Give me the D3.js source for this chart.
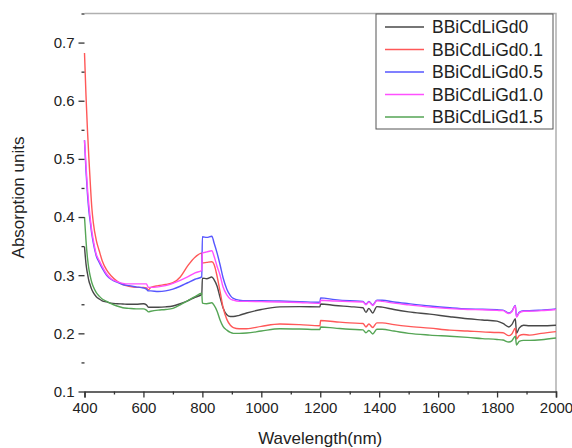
<!DOCTYPE html>
<html>
<head>
<meta charset="utf-8">
<script src="https://cdn.jsdelivr.net/npm/d3@7"></script>
<style>
  body { margin: 0; background: #fff; }
  #chart text { font-family: "Liberation Sans", Arial, sans-serif; fill: #222; }
</style>
</head>
<body>
<div id="chart"></div>
<script>
const wavelengths = [400, 405, 410, 415, 420, 425, 430, 440, 450, 460, 475, 490, 510, 530, 550, 575,
  600, 610, 617, 625, 650, 675, 700, 725, 750, 775, 798, 800, 815, 832, 840, 850, 860, 870, 883, 895,
  905, 925, 950, 1000, 1063, 1130, 1199, 1201, 1250, 1300, 1345, 1355, 1365, 1378, 1392, 1410, 1450,
  1500, 1572, 1640, 1700, 1750, 1800, 1820, 1840, 1850, 1862, 1866, 1875, 1890, 1910, 1950, 2000];

const gd0 = [0.349, 0.32, 0.303, 0.29, 0.282, 0.275, 0.270, 0.263, 0.259, 0.256, 0.254, 0.252, 0.251, 0.2505, 0.250, 0.250,
  0.251, 0.249, 0.245, 0.245, 0.245, 0.2455, 0.247, 0.251, 0.256, 0.262, 0.267, 0.295, 0.294, 0.297, 0.292, 0.281, 0.262, 0.244, 0.232, 0.229,
  0.229, 0.231, 0.235, 0.241, 0.2455, 0.246, 0.2455, 0.2505, 0.248, 0.246, 0.244, 0.236, 0.243, 0.235, 0.246, 0.245, 0.241,
  0.237, 0.233, 0.2285, 0.225, 0.223, 0.221, 0.217, 0.211, 0.215, 0.225, 0.200, 0.209, 0.214, 0.213, 0.213, 0.214];

const gd01 = [0.682, 0.61, 0.55, 0.50, 0.455, 0.415, 0.39, 0.36, 0.342, 0.325, 0.309, 0.299, 0.29, 0.284, 0.281, 0.279,
  0.279, 0.278, 0.275, 0.279, 0.282, 0.284, 0.287, 0.297, 0.316, 0.331, 0.338, 0.321, 0.322, 0.323, 0.318, 0.298, 0.272, 0.245, 0.224, 0.214,
  0.210, 0.208, 0.208, 0.212, 0.216, 0.215, 0.213, 0.222, 0.220, 0.218, 0.217, 0.211, 0.216, 0.210, 0.218, 0.218, 0.215,
  0.212, 0.209, 0.2055, 0.204, 0.2025, 0.2015, 0.201, 0.196, 0.199, 0.209, 0.190, 0.196, 0.198, 0.197, 0.200, 0.203];

const gd05 = [0.532, 0.48, 0.44, 0.41, 0.39, 0.37, 0.355, 0.333, 0.322, 0.312, 0.300, 0.293, 0.288, 0.284, 0.282, 0.280,
  0.278, 0.276, 0.273, 0.273, 0.272, 0.273, 0.276, 0.281, 0.287, 0.293, 0.297, 0.366, 0.365, 0.367, 0.355, 0.338, 0.318, 0.296, 0.276, 0.265,
  0.260, 0.257, 0.256, 0.256, 0.2555, 0.2545, 0.2535, 0.261, 0.258, 0.256, 0.255, 0.250, 0.255, 0.249, 0.257, 0.257, 0.254,
  0.251, 0.247, 0.244, 0.242, 0.2415, 0.2405, 0.240, 0.235, 0.238, 0.248, 0.229, 0.236, 0.239, 0.239, 0.240, 0.242];

const gd10 = [0.532, 0.49, 0.45, 0.42, 0.395, 0.375, 0.36, 0.336, 0.325, 0.315, 0.302, 0.294, 0.289, 0.286, 0.285, 0.285,
  0.285, 0.285, 0.279, 0.279, 0.280, 0.282, 0.286, 0.291, 0.297, 0.304, 0.308, 0.338, 0.340, 0.342, 0.332, 0.315, 0.300, 0.280, 0.266, 0.259,
  0.257, 0.255, 0.255, 0.2545, 0.254, 0.253, 0.2515, 0.257, 0.2555, 0.2545, 0.254, 0.249, 0.254, 0.248, 0.256, 0.255, 0.252,
  0.249, 0.245, 0.2425, 0.241, 0.2405, 0.2395, 0.239, 0.234, 0.237, 0.247, 0.228, 0.235, 0.238, 0.238, 0.239, 0.241];

const gd15 = [0.40, 0.36, 0.33, 0.31, 0.297, 0.287, 0.28, 0.27, 0.264, 0.259, 0.255, 0.251, 0.247, 0.244, 0.243, 0.242,
  0.242, 0.240, 0.237, 0.238, 0.240, 0.241, 0.243, 0.249, 0.256, 0.263, 0.269, 0.252, 0.251, 0.2525, 0.248, 0.238, 0.223, 0.212, 0.2055, 0.2015,
  0.200, 0.200, 0.2005, 0.204, 0.208, 0.2075, 0.2065, 0.211, 0.209, 0.207, 0.206, 0.201, 0.205, 0.199, 0.207, 0.207, 0.204,
  0.200, 0.197, 0.195, 0.193, 0.191, 0.1895, 0.1885, 0.185, 0.187, 0.195, 0.180, 0.186, 0.188, 0.188, 0.189, 0.192];

const seriesNames = ["BBiCdLiGd0", "BBiCdLiGd0.1", "BBiCdLiGd0.5", "BBiCdLiGd1.0", "BBiCdLiGd1.5"];
const seriesValues = [gd0, gd01, gd05, gd10, gd15];
const seriesColors = ["#484848", "#ff5858", "#5656ff", "#ff50ff", "#55a555"];

const xTicks = [400, 600, 800, 1000, 1200, 1400, 1600, 1800, 2000];
const xMinorTicks = [500, 700, 900, 1100, 1300, 1500, 1700, 1900];
const yTicks = [0.1, 0.2, 0.3, 0.4, 0.5, 0.6, 0.7];
const yMinorTicks = [0.15, 0.25, 0.35, 0.45, 0.55, 0.65, 0.75];

const width = 572;
const height = 448;
const margin = { top: 13.5, right: 16, bottom: 56.5, left: 84.5 };

const svg = d3.select("#chart")
  .append("svg")
  .attr("width", width)
  .attr("height", height)
  .style("display", "block");

const x = d3.scaleLinear()
  .domain([400, 2000])
  .range([margin.left, width - margin.right]);

const y = d3.scaleLinear()
  .domain([0.1, 0.75])
  .range([height - margin.bottom, margin.top]);

// light frame on top and right
svg.append("path")
  .attr("d", `M${x(400)},${y(0.75)}H${x(2000)}V${y(0.1)}`)
  .attr("fill", "none")
  .attr("stroke", "#b0b0b0")
  .attr("stroke-width", 1.5);

// lines
const line = d3.line()
  .x((d, i) => x(wavelengths[i]))
  .y(d => y(d))
  .curve(d3.curveMonotoneX);

const plot = svg.append("g");
seriesValues.forEach((vals, k) => {
  plot.append("path")
    .datum(vals)
    .attr("d", line)
    .attr("fill", "none")
    .attr("stroke", seriesColors[k])
    .attr("stroke-width", 1.4)
    .attr("stroke-linejoin", "round");
});

// axes
const gx = svg.append("g")
  .attr("transform", `translate(0,${y(0.1)})`)
  .call(d3.axisBottom(x).tickValues(xTicks).tickSize(6).tickPadding(5).tickFormat(d3.format("d")));
gx.append("g")
  .call(d3.axisBottom(x).tickValues(xMinorTicks).tickSize(3).tickFormat(""));

const gy = svg.append("g")
  .attr("transform", `translate(${x(400)},0)`)
  .call(d3.axisLeft(y).tickValues(yTicks).tickSize(6).tickPadding(4).tickFormat(d3.format(".1f")));
gy.append("g")
  .call(d3.axisLeft(y).tickValues(yMinorTicks).tickSize(3).tickFormat(""));

svg.selectAll(".domain").attr("stroke", "#333").attr("stroke-width", 1.5);
svg.selectAll(".tick line").attr("stroke", "#333").attr("stroke-width", 1.3);
svg.selectAll(".tick text").style("font-size", "15px").attr("fill", "#222");
gx.selectAll("g:last-child .domain").remove();
gy.selectAll("g:last-child .domain").remove();

// axis titles
svg.append("text")
  .attr("x", (x(400) + x(2000)) / 2)
  .attr("y", 444)
  .attr("text-anchor", "middle")
  .style("font-size", "17px")
  .text("Wavelength(nm)");

svg.append("text")
  .attr("transform", `translate(24,${(y(0.1) + y(0.75)) / 2 - 5}) rotate(-90)`)
  .attr("text-anchor", "middle")
  .style("font-size", "17px")
  .text("Absorption units");

// legend
const legend = svg.append("g").attr("transform", "translate(376,14)");
legend.append("rect")
  .attr("width", 177)
  .attr("height", 115)
  .attr("fill", "#fff")
  .attr("stroke", "#555")
  .attr("stroke-width", 1);

seriesNames.forEach((name, k) => {
  const row = legend.append("g").attr("transform", `translate(0,${13 + k * 22.5})`);
  row.append("line")
    .attr("x1", 9).attr("x2", 48)
    .attr("stroke", seriesColors[k])
    .attr("stroke-width", 1.4);
  row.append("text")
    .attr("x", 56)
    .attr("dy", "0.35em")
    .style("font-size", "17.5px")
    .text(name);
});
</script>
</body>
</html>
